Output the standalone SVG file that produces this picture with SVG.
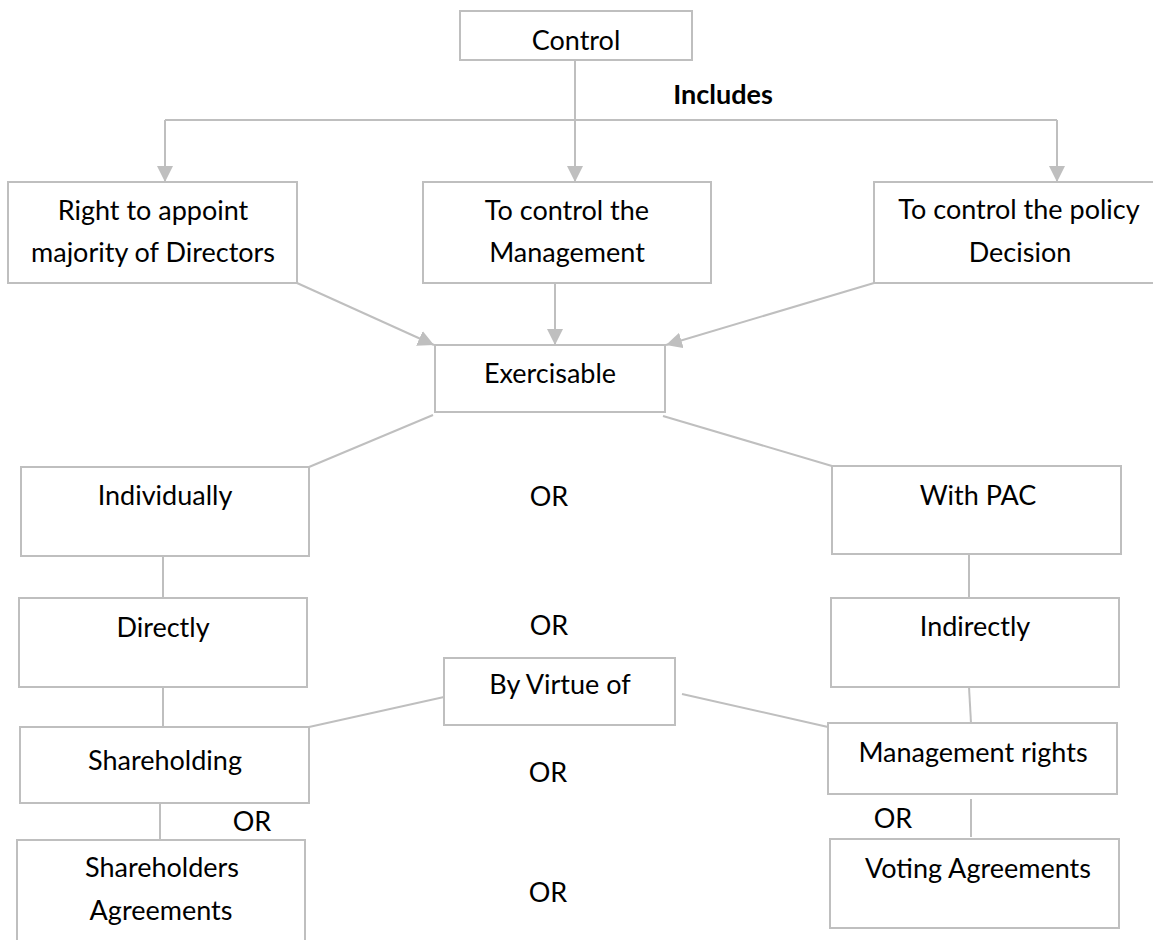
<svg xmlns="http://www.w3.org/2000/svg" width="1153" height="940" viewBox="0 0 1153 940">
<style>
.box{fill:#fff;stroke:#bfbfbf;stroke-width:2}
.open{fill:none;stroke:#bfbfbf;stroke-width:2}
.ln{fill:none;stroke:#bfbfbf;stroke-width:2}
.t{font-family:Lato,"Liberation Sans",sans-serif;font-size:27px;fill:#000;text-anchor:middle}
.b{font-weight:bold}
</style>
<defs>
<marker id="ah" markerUnits="userSpaceOnUse" markerWidth="16" markerHeight="16" refX="16" refY="8" orient="auto">
<path d="M0,0 L16,8 L0,16 z" fill="#bfbfbf"/>
</marker>
</defs>
<rect width="1153" height="940" fill="#fff"/>
<g id="connectors">
<path class="ln" d="M575,60 V182" marker-end="url(#ah)"/>
<path class="ln" d="M165,120 H1057"/>
<path class="ln" d="M165,120 V182" marker-end="url(#ah)"/>
<path class="ln" d="M1057,120 V182" marker-end="url(#ah)"/>
<path class="ln" d="M555,283 V345" marker-end="url(#ah)"/>
<path class="ln" d="M297,283 L434,345" marker-end="url(#ah)"/>
<path class="ln" d="M874,283 L666,345" marker-end="url(#ah)"/>
<path class="ln" d="M433,415 L309,467"/>
<path class="ln" d="M663,416 L832,466"/>
<path class="ln" d="M163,556 V598"/>
<path class="ln" d="M969,554 V598"/>
<path class="ln" d="M163,687 V727"/>
<path class="ln" d="M969,687 L971,723"/>
<path class="ln" d="M444,697 L309,727"/>
<path class="ln" d="M682,694 L828,727"/>
<path class="ln" d="M160,803 V840"/>
<path class="ln" d="M971,799 V837"/>
</g>
<g id="control"><rect class="box" x="460" y="11" width="232" height="49"/><text class="t" x="576" y="50">Control</text></g>
<g id="includes"><text class="t b" x="723" y="104">Includes</text></g>
<g id="appoint"><rect class="box" x="8" y="182" width="289" height="101"/><text class="t" x="153" y="220">Right to appoint</text><text class="t" x="153" y="262">majority of Directors</text></g>
<g id="management"><rect class="box" x="423" y="182" width="288" height="101"/><text class="t" x="567" y="220">To control the</text><text class="t" x="567" y="262">Management</text></g>
<g id="policy"><rect class="box" x="874" y="182" width="290" height="101"/><text class="t" x="1019" y="219">To control the policy</text><text class="t" x="1020" y="262">Decision</text></g>
<g id="exercisable"><rect class="box" x="435" y="345" width="230" height="67"/><text class="t" x="550" y="383">Exercisable</text></g>
<g id="individually"><rect class="box" x="21" y="467" width="288" height="89"/><text class="t" x="165" y="505">Individually</text></g>
<g id="or1"><text class="t" x="549" y="506">OR</text></g>
<g id="withpac"><rect class="box" x="832" y="466" width="289" height="88"/><text class="t" x="978" y="505">With PAC</text></g>
<g id="directly"><rect class="box" x="19" y="598" width="288" height="89"/><text class="t" x="163" y="637">Directly</text></g>
<g id="or2"><text class="t" x="549" y="635">OR</text></g>
<g id="indirectly"><rect class="box" x="831" y="598" width="288" height="89"/><text class="t" x="975" y="636">Indirectly</text></g>
<g id="byvirtue"><rect class="box" x="444" y="658" width="231" height="67"/><text class="t" x="560" y="694">By Virtue of</text></g>
<g id="shareholding"><rect class="box" x="20" y="727" width="289" height="76"/><text class="t" x="165" y="770">Shareholding</text></g>
<g id="or3"><text class="t" x="548" y="782">OR</text></g>
<g id="mgmtrights"><rect class="box" x="828" y="723" width="289" height="71"/><text class="t" x="973" y="762">Management rights</text></g>
<g id="or4"><text class="t" x="252" y="831">OR</text></g>
<g id="or5"><text class="t" x="893" y="828">OR</text></g>
<g id="shagreements"><path class="open" d="M17,942 V840 H305 V942"/><text class="t" x="162" y="877">Shareholders</text><text class="t" x="161" y="920">Agreements</text></g>
<g id="or6"><text class="t" x="548" y="902">OR</text></g>
<g id="voting"><rect class="box" x="830" y="839" width="289" height="89"/><text class="t" x="978" y="878">Voting Agreements</text></g>
</svg>
